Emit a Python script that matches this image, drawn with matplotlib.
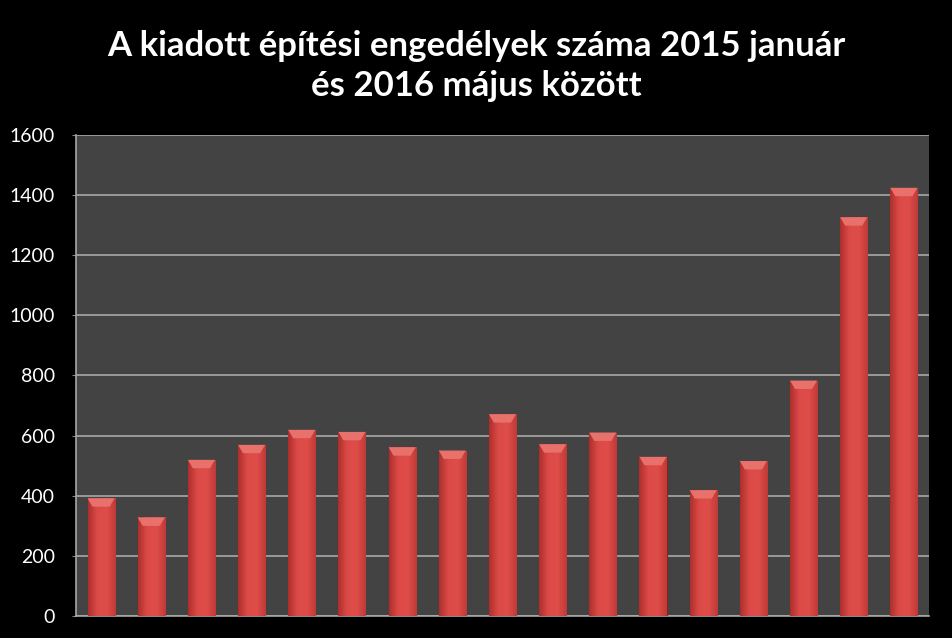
import matplotlib
matplotlib.use("Agg")
import matplotlib.pyplot as plt
import numpy as np
from matplotlib.patches import Polygon
from matplotlib.colors import LinearSegmentedColormap

# havi kiadott építési engedélyek, 2015 jan - 2016 máj
honapok = ["2015. január", "február", "március", "április", "május", "június",
           "július", "augusztus", "szeptember", "október", "november", "december",
           "2016. január", "február", "március", "április", "május"]
engedelyek = [391, 327, 519, 569, 619, 612, 561, 550, 671, 571, 610, 529,
              418, 515, 783, 1327, 1425]

plt.rcParams['font.family'] = ['Lato', 'DejaVu Sans']

fig = plt.figure(figsize=(9.52, 6.38), dpi=100, facecolor='black')
ax = fig.add_axes([0.0798, 0.035, 0.896, 0.753])
ax.set_facecolor('#434343')

x = np.arange(len(engedelyek))
w = 0.54
bars = ax.bar(x, engedelyek, width=w, color='#d84542', edgecolor='#8a2422',
              linewidth=0.8, zorder=3)

# bar shading: horizontal gradient + bevelled top
cmap = LinearSegmentedColormap.from_list('piros', ['#ae2f2d', '#dc4a47', '#df4d49', '#c03a37'])
grad = np.linspace(0, 1, 64).reshape(1, -1)
bevel = 28
for b in bars:
    x0, w0, h = b.get_x(), b.get_width(), b.get_height()
    im = ax.imshow(grad, cmap=cmap, extent=[x0, x0 + w0, 0, h], aspect='auto',
                   zorder=3.5)
    im.set_clip_path(b)
    top = Polygon([[x0, h], [x0 + w0, h], [x0 + w0 - 0.1, h - bevel],
                   [x0 + 0.1, h - bevel]], closed=True, facecolor='#e9716b',
                  edgecolor='none', zorder=4)
    ax.add_patch(top)

ax.set_xlim(-0.5, len(engedelyek) - 0.5)
ax.set_ylim(0, 1600)
ax.set_yticks(range(0, 1601, 200))
ax.yaxis.grid(True, color='#a8a8a8', linewidth=1.2, zorder=1)
ax.set_axisbelow(True)
ax.tick_params(axis='y', colors='white', labelsize=14, length=3, pad=12,
               color='#888888')
ax.set_xticks(x[::2])
ax.set_xticklabels(honapok[::2], rotation=45, ha='right', color='white',
                   fontsize=12)
ax.tick_params(axis='x', length=0, pad=17)

for s in ['top', 'right']:
    ax.spines[s].set_visible(False)
for s in ['left', 'bottom']:
    ax.spines[s].set_color('#a8a8a8')
    ax.spines[s].set_linewidth(1.2)

fig.text(0.5, 0.896, 'A kiadott építési engedélyek száma 2015 január\nés 2016 május között',
         ha='center', va='center', color='white', fontsize=25, fontweight='bold',
         linespacing=1.3)

fig.savefig('out.png', dpi=100, facecolor='black')
